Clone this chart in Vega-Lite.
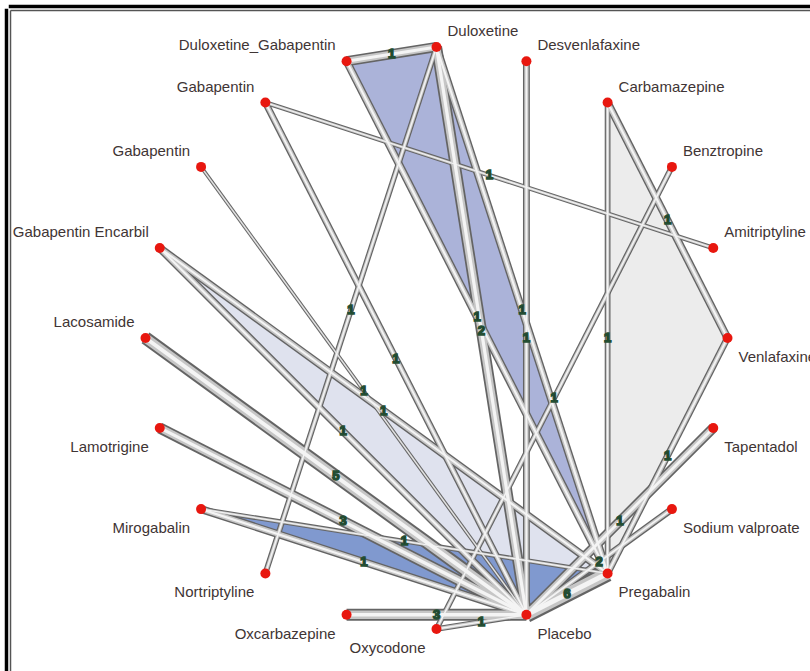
{
  "$schema": "https://vega.github.io/schema/vega-lite/v6.json",
  "width": 800,
  "height": 661,
  "padding": {"left": 10, "top": 10, "right": 0, "bottom": 0},
  "autosize": {"type": "none"},
  "background": "white",
  "config": {"view": {"stroke": null}},
  "datasets": {
    "nodes": [
      {"id": "Dul", "name": "Duloxetine", "x": 0, "y": 1},
      {"id": "Des", "name": "Desvenlafaxine", "x": 0.309, "y": 0.951},
      {"id": "Car", "name": "Carbamazepine", "x": 0.588, "y": 0.809},
      {"id": "Ben", "name": "Benztropine", "x": 0.809, "y": 0.588},
      {"id": "Ami", "name": "Amitriptyline", "x": 0.951, "y": 0.309},
      {"id": "Ven", "name": "Venlafaxine", "x": 1, "y": 0},
      {"id": "Tap", "name": "Tapentadol", "x": 0.951, "y": -0.309},
      {"id": "SV", "name": "Sodium valproate", "x": 0.809, "y": -0.588},
      {"id": "Pre", "name": "Pregabalin", "x": 0.588, "y": -0.809},
      {"id": "Pla", "name": "Placebo", "x": 0.309, "y": -0.951},
      {"id": "Oxy", "name": "Oxycodone", "x": 0, "y": -1},
      {"id": "Oxc", "name": "Oxcarbazepine", "x": -0.309, "y": -0.951},
      {"id": "Nor", "name": "Nortriptyline", "x": -0.588, "y": -0.809},
      {"id": "Mir", "name": "Mirogabalin", "x": -0.809, "y": -0.588},
      {"id": "Lam", "name": "Lamotrigine", "x": -0.951, "y": -0.309},
      {"id": "Lac", "name": "Lacosamide", "x": -1, "y": 0},
      {"id": "GE", "name": "Gabapentin Encarbil", "x": -0.951, "y": 0.309},
      {"id": "Gab2", "name": "Gabapentin", "x": -0.809, "y": 0.588},
      {"id": "Gab1", "name": "Gabapentin", "x": -0.588, "y": 0.809},
      {"id": "DG", "name": "Duloxetine_Gabapentin", "x": -0.309, "y": 0.951}
    ],
    "edges": [
      {"id": "e1", "from": "DG", "to": "Dul", "n": 1, "weight": 8},
      {"id": "e2", "from": "DG", "to": "Pre", "n": 1, "weight": 6},
      {"id": "e3", "from": "Dul", "to": "Pre", "n": 1, "weight": 6},
      {"id": "e4", "from": "Dul", "to": "Pla", "n": 2, "weight": 9},
      {"id": "e5", "from": "Dul", "to": "Nor", "n": 1, "weight": 4},
      {"id": "e6", "from": "Des", "to": "Pla", "n": 1, "weight": 5},
      {"id": "e7", "from": "Car", "to": "Pre", "n": 1, "weight": 4},
      {"id": "e8", "from": "Car", "to": "Ven", "n": 1, "weight": 6},
      {"id": "e9", "from": "Ven", "to": "Pre", "n": 1, "weight": 5},
      {"id": "e10", "from": "Ben", "to": "Oxy", "n": 1, "weight": 4},
      {"id": "e11", "from": "Gab1", "to": "Ami", "n": 1, "weight": 3},
      {"id": "e12", "from": "Gab1", "to": "Pla", "n": 1, "weight": 5},
      {"id": "e13", "from": "Gab2", "to": "Pla", "n": 1, "weight": 2},
      {"id": "e14", "from": "GE", "to": "Pla", "n": 1, "weight": 6},
      {"id": "e15", "from": "GE", "to": "Pre", "n": 1, "weight": 6},
      {"id": "e16", "from": "Lac", "to": "Pla", "n": 5, "weight": 11},
      {"id": "e17", "from": "Lam", "to": "Pla", "n": 3, "weight": 9},
      {"id": "e18", "from": "Mir", "to": "Pla", "n": 1, "weight": 6},
      {"id": "e19", "from": "Mir", "to": "Pre", "n": 1, "weight": 3},
      {"id": "e20", "from": "Oxc", "to": "Pla", "n": 3, "weight": 10},
      {"id": "e21", "from": "Oxy", "to": "Pla", "n": 1, "weight": 4},
      {"id": "e22", "from": "Tap", "to": "Pla", "n": 1, "weight": 8},
      {"id": "e23", "from": "SV", "to": "Pla", "n": 2, "weight": 5},
      {"id": "e24", "from": "Pre", "to": "Pla", "n": 6, "weight": 14}
    ],
    "polys": [
      {"poly": "A", "node": "DG", "k": 1},
      {"poly": "A", "node": "Dul", "k": 2},
      {"poly": "A", "node": "Pre", "k": 3},
      {"poly": "B", "node": "Car", "k": 1},
      {"poly": "B", "node": "Ven", "k": 2},
      {"poly": "B", "node": "Pre", "k": 3},
      {"poly": "C", "node": "GE", "k": 1},
      {"poly": "C", "node": "Pla", "k": 2},
      {"poly": "C", "node": "Pre", "k": 3},
      {"poly": "D", "node": "Mir", "k": 1},
      {"poly": "D", "node": "Pla", "k": 2},
      {"poly": "D", "node": "Pre", "k": 3}
    ]
  },
  "resolve": {"axis": {"x": "independent", "y": "independent"}, "scale": {"strokeWidth": "independent"}},
  "layer": [
    {
      "data": {"name": "polys"},
      "transform": [
        {"lookup": "node", "from": {"data": {"name": "nodes"}, "key": "id", "fields": ["x", "y"]}}
      ],
      "mark": {"type": "line", "interpolate": "linear-closed", "strokeWidth": 0},
      "encoding": {
        "x": {"field": "x", "type": "quantitative", "scale": {"domain": [-1.4656, 1.2835], "nice": false, "zero": false},
              "axis": {"orient": "top", "domain": true, "domainColor": "#555555", "domainWidth": 1.5, "ticks": false, "labels": false, "grid": false, "title": null}},
        "y": {"field": "y", "type": "quantitative", "scale": {"domain": [-1.1443, 1.1271], "nice": false, "zero": false},
              "axis": {"orient": "left", "domain": true, "domainColor": "#555555", "domainWidth": 1.5, "ticks": false, "labels": false, "grid": false, "title": null}},
        "fill": {"field": "poly", "type": "nominal", "scale": {"domain": ["A", "B", "C", "D"], "range": ["#abb3d9", "#ececec", "#dfe2ee", "#8099cf"]}, "legend": null},
        "detail": {"field": "poly"},
        "order": {"field": "k", "type": "quantitative"}
      }
    },
    {
      "data": {"name": "edges"},
      "transform": [
        {"lookup": "from", "from": {"data": {"name": "nodes"}, "key": "id", "fields": ["x", "y"]}, "as": ["x1", "y1"]},
        {"lookup": "to", "from": {"data": {"name": "nodes"}, "key": "id", "fields": ["x", "y"]}, "as": ["x2", "y2"]}
      ],
      "mark": {"type": "rule", "color": "#646464", "strokeCap": "butt"},
      "encoding": {
        "x": {"field": "x1", "type": "quantitative", "scale": {"domain": [-1.4656, 1.2835], "nice": false, "zero": false}, "axis": null},
        "y": {"field": "y1", "type": "quantitative", "scale": {"domain": [-1.1443, 1.1271], "nice": false, "zero": false}, "axis": null},
        "x2": {"field": "x2"},
        "y2": {"field": "y2"},
        "strokeWidth": {"field": "weight", "type": "quantitative", "scale": {"domain": [0, 14], "range": [1.5, 16.5]}, "legend": null}
      }
    },
    {
      "data": {"name": "edges"},
      "transform": [
        {"lookup": "from", "from": {"data": {"name": "nodes"}, "key": "id", "fields": ["x", "y"]}, "as": ["x1", "y1"]},
        {"lookup": "to", "from": {"data": {"name": "nodes"}, "key": "id", "fields": ["x", "y"]}, "as": ["x2", "y2"]}
      ],
      "mark": {"type": "rule", "color": "#c6c6c6", "strokeCap": "butt"},
      "encoding": {
        "x": {"field": "x1", "type": "quantitative", "scale": {"domain": [-1.4656, 1.2835], "nice": false, "zero": false}, "axis": null},
        "y": {"field": "y1", "type": "quantitative", "scale": {"domain": [-1.1443, 1.1271], "nice": false, "zero": false}, "axis": null},
        "x2": {"field": "x2"},
        "y2": {"field": "y2"},
        "strokeWidth": {"field": "weight", "type": "quantitative", "scale": {"domain": [0, 14], "range": [0, 12]}, "legend": null}
      }
    },
    {
      "data": {"name": "edges"},
      "transform": [
        {"lookup": "from", "from": {"data": {"name": "nodes"}, "key": "id", "fields": ["x", "y"]}, "as": ["x1", "y1"]},
        {"lookup": "to", "from": {"data": {"name": "nodes"}, "key": "id", "fields": ["x", "y"]}, "as": ["x2", "y2"]}
      ],
      "mark": {"type": "rule", "color": "#f4f4f4", "strokeCap": "butt"},
      "encoding": {
        "x": {"field": "x1", "type": "quantitative", "scale": {"domain": [-1.4656, 1.2835], "nice": false, "zero": false}, "axis": null},
        "y": {"field": "y1", "type": "quantitative", "scale": {"domain": [-1.1443, 1.1271], "nice": false, "zero": false}, "axis": null},
        "x2": {"field": "x2"},
        "y2": {"field": "y2"},
        "strokeWidth": {"field": "weight", "type": "quantitative", "scale": {"domain": [0, 14], "range": [0, 5]}, "legend": null}
      }
    },
    {
      "data": {"name": "edges"},
      "transform": [
        {"fold": ["from", "to"], "as": ["end", "node"]},
        {"lookup": "node", "from": {"data": {"name": "nodes"}, "key": "id", "fields": ["x", "y"]}}
      ],
      "mark": {"type": "text", "fontSize": 13, "fontWeight": "bold", "font": "Liberation Sans", "fill": "#111111", "stroke": "#244e33", "strokeWidth": 1.5},
      "encoding": {
        "x": {"aggregate": "mean", "field": "x", "type": "quantitative", "scale": {"domain": [-1.4656, 1.2835], "nice": false, "zero": false}, "axis": null},
        "y": {"aggregate": "mean", "field": "y", "type": "quantitative", "scale": {"domain": [-1.1443, 1.1271], "nice": false, "zero": false}, "axis": null},
        "text": {"field": "n", "type": "nominal"},
        "detail": {"field": "id"}
      }
    },
    {
      "data": {"name": "nodes"},
      "mark": {"type": "point", "filled": true, "size": 100, "color": "#e8170f", "opacity": 1},
      "encoding": {
        "x": {"field": "x", "type": "quantitative", "scale": {"domain": [-1.4656, 1.2835], "nice": false, "zero": false},
              "axis": {"orient": "top", "offset": 4, "domain": true, "domainColor": "#000000", "domainWidth": 3.5, "domainCap": "square", "ticks": false, "labels": false, "grid": false, "title": null}},
        "y": {"field": "y", "type": "quantitative", "scale": {"domain": [-1.1443, 1.1271], "nice": false, "zero": false},
              "axis": {"orient": "left", "offset": 4, "domain": true, "domainColor": "#000000", "domainWidth": 3.5, "domainCap": "square", "ticks": false, "labels": false, "grid": false, "title": null}}
      }
    },
    {
      "data": {"name": "nodes"},
      "transform": [{"filter": "datum.x >= 0 && datum.y > 0"}],
      "mark": {"type": "text", "align": "left", "baseline": "middle", "dx": 11, "dy": -16, "fontSize": 15, "font": "Liberation Sans", "fill": "#3f3535"},
      "encoding": {
        "x": {"field": "x", "type": "quantitative", "scale": {"domain": [-1.4656, 1.2835], "nice": false, "zero": false}, "axis": null},
        "y": {"field": "y", "type": "quantitative", "scale": {"domain": [-1.1443, 1.1271], "nice": false, "zero": false}, "axis": null},
        "text": {"field": "name", "type": "nominal"}
      }
    },
    {
      "data": {"name": "nodes"},
      "transform": [{"filter": "datum.x > 0 && datum.y <= 0"}],
      "mark": {"type": "text", "align": "left", "baseline": "middle", "dx": 11, "dy": 19, "fontSize": 15, "font": "Liberation Sans", "fill": "#3f3535"},
      "encoding": {
        "x": {"field": "x", "type": "quantitative", "scale": {"domain": [-1.4656, 1.2835], "nice": false, "zero": false}, "axis": null},
        "y": {"field": "y", "type": "quantitative", "scale": {"domain": [-1.1443, 1.1271], "nice": false, "zero": false}, "axis": null},
        "text": {"field": "name", "type": "nominal"}
      }
    },
    {
      "data": {"name": "nodes"},
      "transform": [{"filter": "datum.x <= 0 && datum.y < 0"}],
      "mark": {"type": "text", "align": "right", "baseline": "middle", "dx": -11, "dy": 19, "fontSize": 15, "font": "Liberation Sans", "fill": "#3f3535"},
      "encoding": {
        "x": {"field": "x", "type": "quantitative", "scale": {"domain": [-1.4656, 1.2835], "nice": false, "zero": false}, "axis": null},
        "y": {"field": "y", "type": "quantitative", "scale": {"domain": [-1.1443, 1.1271], "nice": false, "zero": false}, "axis": null},
        "text": {"field": "name", "type": "nominal"}
      }
    },
    {
      "data": {"name": "nodes"},
      "transform": [{"filter": "datum.x < 0 && datum.y >= 0"}],
      "mark": {"type": "text", "align": "right", "baseline": "middle", "dx": -11, "dy": -16, "fontSize": 15, "font": "Liberation Sans", "fill": "#3f3535"},
      "encoding": {
        "x": {"field": "x", "type": "quantitative", "scale": {"domain": [-1.4656, 1.2835], "nice": false, "zero": false}, "axis": null},
        "y": {"field": "y", "type": "quantitative", "scale": {"domain": [-1.1443, 1.1271], "nice": false, "zero": false}, "axis": null},
        "text": {"field": "name", "type": "nominal"}
      }
    }
  ]
}
